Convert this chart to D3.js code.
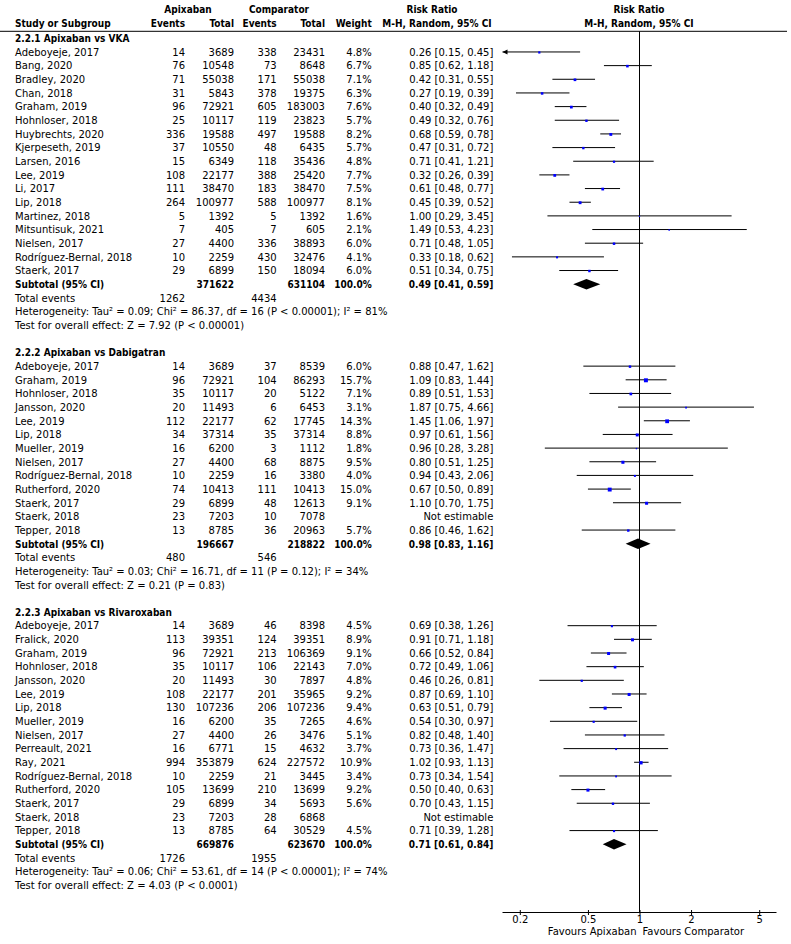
<!DOCTYPE html>
<html>
<head>
<meta charset="utf-8">
<script src="https://cdn.jsdelivr.net/npm/d3@7"></script>
<style>
  body { margin: 0; background: #fff; }
  svg { display: block; }
  text { font-family: "DejaVu Sans", sans-serif; font-size: 10px; fill: #000; }
  .b { font-family: "DejaVu Sans Condensed", "DejaVu Sans", sans-serif; font-weight: bold; font-stretch: condensed; }
</style>
</head>
<body>
<svg id="forest"></svg>
<script>
// study rows: name, apixaban events, apixaban total, comparator events, comparator total, weight %, RR, lower, upper
const vkaRows = [
  ["Adeboyeje, 2017", 14, 3689, 338, 23431, 4.8, 0.26, 0.15, 0.45],
  ["Bang, 2020", 76, 10548, 73, 8648, 6.7, 0.85, 0.62, 1.18],
  ["Bradley, 2020", 71, 55038, 171, 55038, 7.1, 0.42, 0.31, 0.55],
  ["Chan, 2018", 31, 5843, 378, 19375, 6.3, 0.27, 0.19, 0.39],
  ["Graham, 2019", 96, 72921, 605, 183003, 7.6, 0.40, 0.32, 0.49],
  ["Hohnloser, 2018", 25, 10117, 119, 23823, 5.7, 0.49, 0.32, 0.76],
  ["Huybrechts, 2020", 336, 19588, 497, 19588, 8.2, 0.68, 0.59, 0.78],
  ["Kjerpeseth, 2019", 37, 10550, 48, 6435, 5.7, 0.47, 0.31, 0.72],
  ["Larsen, 2016", 15, 6349, 118, 35436, 4.8, 0.71, 0.41, 1.21],
  ["Lee, 2019", 108, 22177, 388, 25420, 7.7, 0.32, 0.26, 0.39],
  ["Li, 2017", 111, 38470, 183, 38470, 7.5, 0.61, 0.48, 0.77],
  ["Lip, 2018", 264, 100977, 588, 100977, 8.1, 0.45, 0.39, 0.52],
  ["Martinez, 2018", 5, 1392, 5, 1392, 1.6, 1.00, 0.29, 3.45],
  ["Mitsuntisuk, 2021", 7, 405, 7, 605, 2.1, 1.49, 0.53, 4.23],
  ["Nielsen, 2017", 27, 4400, 336, 38893, 6.0, 0.71, 0.48, 1.05],
  ["Rodríguez-Bernal, 2018", 10, 2259, 430, 32476, 4.1, 0.33, 0.18, 0.62],
  ["Staerk, 2017", 29, 6899, 150, 18094, 6.0, 0.51, 0.34, 0.75]
];
const dabiRows = [
  ["Adeboyeje, 2017", 14, 3689, 37, 8539, 6.0, 0.88, 0.47, 1.62],
  ["Graham, 2019", 96, 72921, 104, 86293, 15.7, 1.09, 0.83, 1.44],
  ["Hohnloser, 2018", 35, 10117, 20, 5122, 7.1, 0.89, 0.51, 1.53],
  ["Jansson, 2020", 20, 11493, 6, 6453, 3.1, 1.87, 0.75, 4.66],
  ["Lee, 2019", 112, 22177, 62, 17745, 14.3, 1.45, 1.06, 1.97],
  ["Lip, 2018", 34, 37314, 35, 37314, 8.8, 0.97, 0.61, 1.56],
  ["Mueller, 2019", 16, 6200, 3, 1112, 1.8, 0.96, 0.28, 3.28],
  ["Nielsen, 2017", 27, 4400, 68, 8875, 9.5, 0.80, 0.51, 1.25],
  ["Rodríguez-Bernal, 2018", 10, 2259, 16, 3380, 4.0, 0.94, 0.43, 2.06],
  ["Rutherford, 2020", 74, 10413, 111, 10413, 15.0, 0.67, 0.50, 0.89],
  ["Staerk, 2017", 29, 6899, 48, 12613, 9.1, 1.10, 0.70, 1.75],
  ["Staerk, 2018", 23, 7203, 10, 7078, null, null, null, null],
  ["Tepper, 2018", 13, 8785, 36, 20963, 5.7, 0.86, 0.46, 1.62]
];
const rivaRows = [
  ["Adeboyeje, 2017", 14, 3689, 46, 8398, 4.5, 0.69, 0.38, 1.26],
  ["Fralick, 2020", 113, 39351, 124, 39351, 8.9, 0.91, 0.71, 1.18],
  ["Graham, 2019", 96, 72921, 213, 106369, 9.1, 0.66, 0.52, 0.84],
  ["Hohnloser, 2018", 35, 10117, 106, 22143, 7.0, 0.72, 0.49, 1.06],
  ["Jansson, 2020", 20, 11493, 30, 7897, 4.8, 0.46, 0.26, 0.81],
  ["Lee, 2019", 108, 22177, 201, 35965, 9.2, 0.87, 0.69, 1.10],
  ["Lip, 2018", 130, 107236, 206, 107236, 9.4, 0.63, 0.51, 0.79],
  ["Mueller, 2019", 16, 6200, 35, 7265, 4.6, 0.54, 0.30, 0.97],
  ["Nielsen, 2017", 27, 4400, 26, 3476, 5.1, 0.82, 0.48, 1.40],
  ["Perreault, 2021", 16, 6771, 15, 4632, 3.7, 0.73, 0.36, 1.47],
  ["Ray, 2021", 994, 353879, 624, 227572, 10.9, 1.02, 0.93, 1.13],
  ["Rodríguez-Bernal, 2018", 10, 2259, 21, 3445, 3.4, 0.73, 0.34, 1.54],
  ["Rutherford, 2020", 105, 13699, 210, 13699, 9.2, 0.50, 0.40, 0.63],
  ["Staerk, 2017", 29, 6899, 34, 5693, 5.6, 0.70, 0.43, 1.15],
  ["Staerk, 2018", 23, 7203, 28, 6868, null, null, null, null],
  ["Tepper, 2018", 13, 8785, 64, 30529, 4.5, 0.71, 0.39, 1.28]
];

const sectionTitles = ["2.2.1 Apixaban vs VKA", "2.2.2 Apixaban vs Dabigatran", "2.2.3 Apixaban vs Rivaroxaban"];
// subtotal: apixaban total, comparator total, RR, lower, upper
const subtotals = [
  [371622, 631104, 0.49, 0.41, 0.59],
  [196667, 218822, 0.98, 0.83, 1.16],
  [669876, 623670, 0.71, 0.61, 0.84]
];
const totalEvents = [[1262, 4434], [480, 546], [1726, 1955]];
const heterogeneity = [
  ["0.09", "86.37", "16", "P < 0.00001", "81%"],
  ["0.03", "16.71", "11", "P = 0.12", "34%"],
  ["0.06", "53.61", "14", "P < 0.00001", "74%"]
];
const overallEffect = ["Z = 7.92 (P < 0.00001)", "Z = 0.21 (P = 0.83)", "Z = 4.03 (P < 0.0001)"];
const axisTicks = [0.2, 0.5, 1, 2, 5];

const width = 791, height = 944;
const svg = d3.select("#forest").attr("width", width).attr("height", height);

const x = d3.scaleLog().domain([Math.pow(10, -0.8), Math.pow(10, 0.8)]).range([502.5, 776.5]);
const line = d3.scaleLinear().domain([0, 1]).range([38.3, 51.96]);
const axisY = 912.5;

const col = { name: 15, ae: 185, at: 234, ce: 276.7, ct: 325, w: 371.7, rr: 493.3 };
const fmt = v => v.toFixed(2);

function txt(g, xx, yy, s, anchor, bold) {
  return g.append("text")
    .attr("x", xx).attr("y", yy + 3.8)
    .attr("text-anchor", anchor || "start")
    .attr("class", bold ? "b" : null)
    .text(s);
}

// header
const head = svg.append("g");
txt(head, 188, 8.8, "Apixaban", "middle", true);
txt(head, 279, 8.8, "Comparator", "middle", true);
txt(head, 432, 8.8, "Risk Ratio", "middle", true);
txt(head, 639, 8.8, "Risk Ratio", "middle", true);
txt(head, col.name, 23, "Study or Subgroup", "start", true);
txt(head, col.ae, 23, "Events", "end", true);
txt(head, col.at, 23, "Total", "end", true);
txt(head, col.ce, 23, "Events", "end", true);
txt(head, col.ct, 23, "Total", "end", true);
txt(head, col.w, 23, "Weight", "end", true);
txt(head, 437, 23, "M-H, Random, 95% CI", "middle", true);
txt(head, 639, 23, "M-H, Random, 95% CI", "middle", true);

svg.append("line")
  .attr("x1", 0).attr("x2", 787)
  .attr("y1", 31.3).attr("y2", 31.3)
  .attr("stroke", "#000");

// null line
svg.append("line")
  .attr("x1", x(1)).attr("x2", x(1))
  .attr("y1", 31.3).attr("y2", axisY)
  .attr("stroke", "#000");

const sections = [vkaRows, dabiRows, rivaRows];
let start = 0;
const plot = svg.append("g");

sections.forEach((rows, s) => {
  const g = svg.append("g");
  txt(g, col.name, line(start), sectionTitles[s], "start", true);

  rows.forEach((r, i) => {
    const yy = line(start + 1 + i);
    txt(g, col.name, yy, r[0]);
    txt(g, col.ae, yy, r[1], "end");
    txt(g, col.at, yy, r[2], "end");
    txt(g, col.ce, yy, r[3], "end");
    txt(g, col.ct, yy, r[4], "end");
    if (r[5] == null) {
      txt(g, col.rr, yy, "Not estimable", "end");
      return;
    }
    txt(g, col.w, yy, r[5].toFixed(1) + "%", "end");
    txt(g, col.rr, yy, `${fmt(r[6])} [${fmt(r[7])}, ${fmt(r[8])}]`, "end");

    const [dMin, dMax] = x.domain();
    const lo = Math.max(r[7], dMin), hi = Math.min(r[8], dMax);
    plot.append("line")
      .attr("x1", x(lo)).attr("x2", x(hi))
      .attr("y1", yy).attr("y2", yy)
      .attr("stroke", "#000");
    if (r[7] < dMin) {
      const ax = x(dMin);
      plot.append("path")
        .attr("d", `M${ax},${yy}L${ax + 5},${yy - 2.5}L${ax + 5},${yy + 2.5}Z`)
        .attr("fill", "#000");
    }
    const side = Math.sqrt(r[5]);
    plot.append("rect")
      .attr("x", x(r[6]) - side / 2).attr("y", yy - side / 2 + 0.5)
      .attr("width", side).attr("height", side)
      .attr("fill", "#0000ff");
  });

  const sub = subtotals[s];
  const ys = line(start + 1 + rows.length);
  txt(g, col.name, ys, "Subtotal (95% CI)", "start", true);
  txt(g, col.at, ys, sub[0], "end", true);
  txt(g, col.ct, ys, sub[1], "end", true);
  txt(g, col.w, ys, "100.0%", "end", true);
  txt(g, col.rr, ys, `${fmt(sub[2])} [${fmt(sub[3])}, ${fmt(sub[4])}]`, "end", true);
  plot.append("path")
    .attr("d", `M${x(sub[3])},${ys}L${x(sub[2])},${ys - 5.3}L${x(sub[4])},${ys}L${x(sub[2])},${ys + 5.3}Z`)
    .attr("fill", "#000");

  const yt = line(start + 2 + rows.length);
  txt(g, col.name, yt, "Total events");
  txt(g, col.ae, yt, totalEvents[s][0], "end");
  txt(g, col.ce, yt, totalEvents[s][1], "end");
  const h = heterogeneity[s];
  txt(g, col.name, line(start + 3 + rows.length),
    `Heterogeneity: Tau² = ${h[0]}; Chi² = ${h[1]}, df = ${h[2]} (${h[3]}); I² = ${h[4]}`);
  txt(g, col.name, line(start + 4 + rows.length), "Test for overall effect: " + overallEffect[s]);

  start += rows.length + 6;
});

// axis
const axis = svg.append("g")
  .attr("transform", `translate(0,${axisY})`)
  .call(d3.axisBottom(x).tickValues(axisTicks).tickFormat(d3.format("")).tickSize(2.5).tickPadding(1.3));
axis.select(".domain").attr("d", `M${x.range()[0]},0H${x.range()[1]}`).attr("stroke", "#000");
axis.selectAll(".tick line").attr("y1", -2.5).attr("stroke", "#000");
axis.selectAll(".tick text").attr("fill", "#000");
axis.attr("font-size", null).attr("font-family", null);

txt(svg, x(1) - 3, 931.5, "Favours Apixaban", "end");
txt(svg, x(1) + 3, 931.5, "Favours Comparator", "start");
</script>
</body>
</html>
